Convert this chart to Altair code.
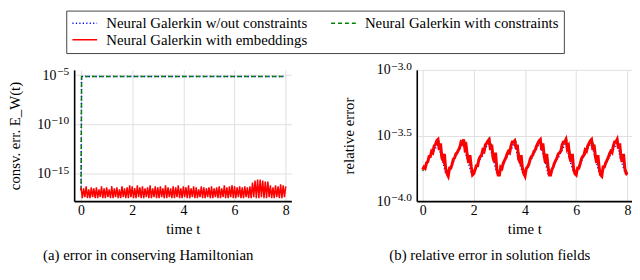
import altair as alt
import pandas as pd

S_BLUE = "Neural Galerkin w/out constraints"
S_GREEN = "Neural Galerkin with constraints"
S_RED = "Neural Galerkin with embeddings"
series_names = [S_BLUE, S_GREEN, S_RED]
series_colors = ["#0000ff", "#008000", "#ff0000"]
series_dash = [[1.2, 2.3], [4, 3], [1, 0]]

FONT = "Liberation Serif"

# ---------------- panel (a): conservation error ----------------
a_ticks = [1e-15, 1e-10, 1e-5]
a_tick_exp = ["−15", "−10", "−5"]
a_t_const = [0.0, 0.02, 1, 2, 3, 4, 5, 6, 7, 8]
a_blue = [2e-17, 7.0e-6, 7.0e-6, 7.0e-6, 7.0e-6, 7.0e-6, 7.0e-6, 7.0e-6, 7.0e-6, 7.0e-6]
a_green = [2e-17, 7.2e-6, 7.2e-6, 7.2e-6, 7.2e-6, 7.2e-6, 7.2e-6, 7.2e-6, 7.2e-6, 7.2e-6]
# log10 of the red (embeddings) curve, sampled every 0.05
a_red_log10 = [
    -16.4, -17.5, -16.5, -17.4, -16.3, -17.5, -16.6, -17.5, -16.4, -17.4,
    -16.5, -17.5, -16.4, -17.5, -16.6, -17.4, -16.3, -17.5, -16.5, -17.5,
    -16.4, -17.4, -16.6, -17.5, -16.3, -17.5, -16.5, -17.4, -16.4, -17.5,
    -16.6, -17.5, -16.3, -17.4, -16.5, -17.5, -16.4, -17.5, -16.2, -17.4,
    -16.3, -17.5, -16.5, -17.5, -16.2, -17.4, -16.4, -17.5, -16.3, -17.5,
    -16.5, -17.4, -16.4, -17.5, -16.2, -17.5, -16.5, -17.4, -16.3, -17.5,
    -16.4, -17.5, -16.3, -17.4, -16.5, -17.5, -16.2, -17.5, -16.4, -17.4,
    -16.5, -17.5, -16.3, -17.5, -16.4, -17.4, -16.2, -17.5, -16.5, -17.5,
    -16.3, -17.4, -16.4, -17.5, -16.2, -17.5, -16.5, -17.4, -16.3, -17.5,
    -16.4, -17.5, -16.6, -17.4, -16.3, -17.5, -16.4, -17.5, -16.5, -17.4,
    -16.4, -17.5, -16.3, -17.5, -16.5, -17.4, -16.4, -17.5, -16.3, -17.5,
    -16.5, -17.4, -16.2, -17.5, -16.4, -17.5, -16.3, -17.4, -16.2, -17.5,
    -16.3, -17.5, -16.4, -17.4, -16.3, -17.5, -16.4, -17.5, -16.3, -17.4,
    -16.4, -17.5, -16.3, -17.5, -15.9, -17.4, -15.7, -17.5, -15.6, -17.5,
    -15.6, -17.4, -15.7, -17.5, -15.8, -17.5, -15.8, -17.4, -16.2, -17.5,
    -16.4, -17.5, -16.2, -17.4, -16.3, -17.5, -16.1, -17.5, -16.2, -17.4,
    -16.3,
]

# ---------------- panel (b): relative error ----------------
b_ticks = [1e-4, 10 ** -3.5, 1e-3]
b_tick_exp = ["−4.0", "−3.5", "−3.0"]
b_red_log10 = [
    -3.76, -3.74, -3.75, -3.71, -3.70, -3.66, -3.66, -3.62, -3.63, -3.58,
    -3.57, -3.54, -3.53, -3.61, -3.56, -3.67, -3.69, -3.64, -3.75, -3.79,
    -3.81, -3.75, -3.75, -3.72, -3.68, -3.67, -3.64, -3.63, -3.61, -3.59,
    -3.55, -3.56, -3.53, -3.60, -3.58, -3.66, -3.71, -3.65, -3.74, -3.80,
    -3.79, -3.76, -3.73, -3.73, -3.68, -3.66, -3.65, -3.61, -3.62, -3.57,
    -3.56, -3.54, -3.53, -3.61, -3.57, -3.67, -3.70, -3.63, -3.76, -3.80,
    -3.80, -3.74, -3.75, -3.71, -3.69, -3.67, -3.64, -3.62, -3.63, -3.58,
    -3.55, -3.55, -3.54, -3.60, -3.57, -3.68, -3.70, -3.65, -3.75, -3.79,
    -3.81, -3.75, -3.74, -3.72, -3.68, -3.66, -3.65, -3.62, -3.61, -3.58,
    -3.56, -3.54, -3.53, -3.61, -3.56, -3.66, -3.71, -3.64, -3.74, -3.80,
    -3.80, -3.76, -3.74, -3.71, -3.69, -3.67, -3.64, -3.63, -3.62, -3.57,
    -3.55, -3.55, -3.53, -3.60, -3.58, -3.67, -3.70, -3.64, -3.76, -3.79,
    -3.80, -3.75, -3.75, -3.72, -3.68, -3.66, -3.65, -3.61, -3.62, -3.58,
    -3.56, -3.54, -3.53, -3.61, -3.57, -3.66, -3.71, -3.65, -3.75, -3.80,
    -3.81, -3.74, -3.74, -3.71, -3.69, -3.67, -3.64, -3.62, -3.63, -3.58,
    -3.55, -3.55, -3.53, -3.60, -3.56, -3.67, -3.70, -3.64, -3.75, -3.79,
    -3.80,
]
b_blue_log10 = [
    -3.75, -3.74, -3.70, -3.66, -3.63, -3.60, -3.56, -3.64, -3.71, -3.79,
    -3.78, -3.73, -3.70, -3.66, -3.62, -3.59, -3.55, -3.65, -3.72, -3.78,
    -3.77, -3.74, -3.69, -3.67, -3.63, -3.58, -3.56, -3.64, -3.71, -3.79,
    -3.78, -3.74, -3.70, -3.66, -3.63, -3.59, -3.55, -3.65, -3.72, -3.78,
    -3.77, -3.73, -3.70, -3.66, -3.62, -3.58, -3.56, -3.64, -3.71, -3.79,
    -3.78, -3.74, -3.69, -3.67, -3.63, -3.59, -3.55, -3.65, -3.72, -3.78,
    -3.77, -3.74, -3.70, -3.66, -3.62, -3.58, -3.56, -3.64, -3.71, -3.79,
    -3.78, -3.73, -3.70, -3.66, -3.63, -3.59, -3.55, -3.65, -3.72, -3.78,
    -3.79,
]
b_green_log10 = [
    -3.77, -3.73, -3.69, -3.65, -3.60, -3.56, -3.53, -3.58, -3.67, -3.76,
    -3.79, -3.74, -3.68, -3.64, -3.61, -3.55, -3.53, -3.57, -3.68, -3.75,
    -3.78, -3.73, -3.69, -3.65, -3.60, -3.56, -3.52, -3.58, -3.67, -3.76,
    -3.79, -3.74, -3.68, -3.64, -3.61, -3.55, -3.53, -3.57, -3.68, -3.75,
    -3.78, -3.73, -3.69, -3.65, -3.60, -3.56, -3.53, -3.58, -3.67, -3.76,
    -3.79, -3.74, -3.68, -3.64, -3.61, -3.55, -3.52, -3.57, -3.68, -3.75,
    -3.78, -3.73, -3.69, -3.65, -3.60, -3.56, -3.53, -3.58, -3.67, -3.76,
    -3.79, -3.74, -3.68, -3.64, -3.61, -3.55, -3.53, -3.57, -3.68, -3.75,
    -3.79,
]

t_005 = [round(0.05 * i, 2) for i in range(len(a_red_log10))]
t_01 = [round(0.1 * i, 1) for i in range(len(b_blue_log10))]


def rows(series, ts, vals):
    return [{"series": series, "t": t, "v": v, "i": k} for k, (t, v) in enumerate(zip(ts, vals))]


df_a = pd.DataFrame(
    rows(S_BLUE, a_t_const, a_blue)
    + rows(S_GREEN, a_t_const, a_green)
    + rows(S_RED, t_005, [10 ** x for x in a_red_log10])
)
df_b = pd.DataFrame(
    rows(S_BLUE, t_01, [10 ** x for x in b_blue_log10])
    + rows(S_GREEN, t_01, [10 ** x for x in b_green_log10])
    + rows(S_RED, t_005, [10 ** x for x in b_red_log10])
)

legend = alt.Legend(
    orient="none",
    direction="horizontal",
    legendX=-8,
    legendY=-60,
    columns=2,
    columnPadding=20,
    rowPadding=1,
    padding=5,
    strokeColor="#444444",
    labelFont=FONT,
    labelFontSize=15,
    labelColor="black",
    labelLimit=500,
    labelOffset=20.5,
    symbolType="M-1,0H3",
    symbolSize=156,
    symbolStrokeWidth=1.6,
    symbolFillColor="transparent",
)
color_enc = alt.Color(
    "series:N", title=None,
    scale=alt.Scale(domain=series_names, range=series_colors),
    legend=legend,
)
dash_enc = alt.StrokeDash(
    "series:N", title=None,
    scale=alt.Scale(domain=series_names, range=series_dash),
    legend=legend,
)

EXP_SIZE = 11.5


def panel(df, xdomain, width, ydomain, ticks, tick_exp, label_pad, ytitle, title_x,
          caption, red_width):
    x = alt.X(
        "t:Q",
        scale=alt.Scale(domain=xdomain, nice=False, zero=False),
        axis=alt.Axis(values=[0, 2, 4, 6, 8], title="time t", format="d"),
    )
    y = alt.Y(
        "v:Q",
        scale=alt.Scale(type="log", domain=ydomain, nice=False),
        axis=alt.Axis(values=ticks, labelExpr="'10'", labelPadding=label_pad,
                      title=ytitle, titleX=title_x, titleY=66.5),
    )
    layers = []
    for name, w in [(S_BLUE, 1.5), (S_GREEN, 1.5), (S_RED, red_width)]:
        layers.append(
            alt.Chart(df)
            .transform_filter(alt.datum.series == name)
            .mark_line(strokeWidth=w, clip=True)
            .encode(x=x, y=y, color=color_enc, strokeDash=dash_enc, order="i:Q")
        )
    # exponents of the y tick labels (10^...)
    exp_df = pd.DataFrame({"v": ticks, "exp": tick_exp})
    layers.append(
        alt.Chart(exp_df)
        .mark_text(align="right", baseline="alphabetic", font=FONT, fontSize=EXP_SIZE,
                   color="black", dy=0)
        .encode(x=alt.value(-5), y=y, text="exp:N")
    )
    return alt.layer(*layers).properties(
        width=width,
        height=133,
        title=alt.TitleParams(caption, orient="bottom", anchor="middle", frame="group",
                              dx=-35, offset=12),
    )


left = panel(
    df_a, [-0.27, 8.22], 220, [10 ** -17.8, 10 ** -4.47], a_ticks, a_tick_exp,
    {"condition": {"test": "datum.value > 1e-7", "value": 18.5}, "value": 24},
    "consv. err. E_W(t)", -52, "(a) error in conserving Hamiltonian", 1.5,
)
right = panel(
    df_b, [-0.23, 8.18], 218, [1e-4, 1e-3], b_ticks, b_tick_exp, 27,
    "relative error", -61, "(b) relative error in solution fields", 3.0,
)

chart = (
    alt.hconcat(left, right, spacing=127, bounds="flush")
    .properties(padding=0)
    .configure_view(stroke=None)
    .configure_axis(
        labelFont=FONT, labelFontSize=14, labelColor="black",
        titleFont=FONT, titleFontSize=15, titleFontWeight="normal", titleColor="black",
        domainColor="black", domainWidth=1.6,
        gridColor="#e0e0e0", gridWidth=1,
        ticks=False, tickSize=0, titlePadding=5,
    )
    .configure_legend(labelFont=FONT, labelFontSize=15, labelColor="black")
    .configure_title(font=FONT, fontSize=15, fontWeight="normal", color="black")
)

chart.save("out.html", embed_options={"renderer": "svg", "actions": False})
